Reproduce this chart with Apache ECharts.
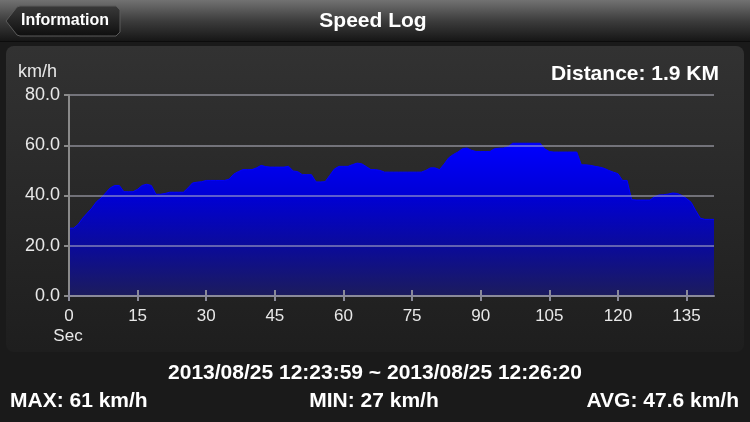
<!DOCTYPE html>
<html>
<head>
<meta charset="utf-8">
<script src="https://cdn.jsdelivr.net/npm/echarts@6/dist/echarts.min.js"></script>
<style>
html,body{margin:0;padding:0;background:#1a1a1a;}
#c{width:750px;height:422px;}
</style>
</head>
<body>
<div id="c"></div>
<script>
// ---- data ----
const seconds = [];
for (let i = 0; i <= 141; i++) seconds.push(i);
const speeds = [
  27, 27, 28.5, 31, 33, 35, 37.5, 39, 41, 43,
  44, 44, 41.5, 41.5, 41.5, 42.5, 44, 44.5, 44, 40.5,
  40.5, 40.8, 41.3, 41.3, 41.3, 41.3, 43, 45, 45.3, 45.5,
  46, 46, 46, 46, 46, 46.5, 48.5, 49.5, 50.3, 50.3,
  50.3, 51, 52, 51.5, 51.3, 51.3, 51.3, 51.3, 51.6, 49.8,
  49.5, 48.3, 48.3, 48.3, 45.4, 45.4, 45.5, 48, 50.5, 51.6,
  51.6, 51.6, 52.3, 52.9, 52.6, 51.5, 50.3, 50.3, 50, 49.3,
  49.3, 49.3, 49.3, 49.3, 49.3, 49.3, 49.3, 49.3, 50, 51,
  51, 50.3, 52.5, 55, 56.3, 57.3, 58.6, 58.9, 58, 57.5,
  57.5, 57.5, 57.5, 58.6, 58.8, 58.9, 59.5, 60.8, 60.8, 60.8,
  60.8, 60.8, 60.8, 60.8, 58.6, 57.5, 57.3, 57.3, 57.3, 57.3,
  57.3, 57.3, 52.2, 52.2, 52, 51.6, 51.3, 50.8, 50, 49.3,
  48.7, 46, 46, 38.4, 38.2, 38.2, 38.2, 38.2, 39.5, 40.2,
  40.3, 40.6, 41, 40.8, 40, 38.8, 37.3, 34, 31, 30.5,
  30.5, 30.5
];
const xTickLabels = [0, 15, 30, 45, 60, 75, 90, 105, 120, 135];
const yTickLabels = [0, 20, 40, 60, 80];
const titleText = 'Speed Log';
const backText = 'Information';
const distanceText = 'Distance: 1.9 KM';
const rangeText = '2013/08/25 12:23:59 ~ 2013/08/25 12:26:20';
const maxText = 'MAX: 61 km/h';
const minText = 'MIN: 27 km/h';
const avgText = 'AVG: 47.6 km/h';

const points = seconds.map((s, i) => [s, speeds[i]]);
const FONT = '"Liberation Sans", Arial, Helvetica, sans-serif';

const chart = echarts.init(document.getElementById('c'), null, {renderer: 'canvas'});
chart.setOption({
  backgroundColor: '#1a1a1a',
  animation: false,
  grid: {left: 69, right: 36, top: 95, bottom: 126},
  graphic: [
    {type: 'rect', z: -10, silent: true, shape: {x: 0, y: 0, width: 750, height: 42},
      style: {fill: new echarts.graphic.LinearGradient(0, 0, 0, 1, [
        {offset: 0, color: '#727272'}, {offset: 0.5, color: '#3c3c3c'}, {offset: 1, color: '#141414'}])}},
    {type: 'rect', z: -10, silent: true, shape: {x: 0, y: 41, width: 750, height: 1}, style: {fill: '#0c0c0c'}},
    {type: 'polygon', z: 5, silent: true,
      shape: {points: [[6, 21], [17, 7], [20, 6], [116, 6], [120, 10], [120, 32], [116, 36], [20, 36], [17, 35]]},
      style: {fill: new echarts.graphic.LinearGradient(0, 0, 0, 1, [
        {offset: 0, color: '#3a3a3a'}, {offset: 1, color: '#0e0e0e'}]), stroke: '#5a5a5a', lineWidth: 1}},
    {type: 'text', z: 6, silent: true, style: {text: backText, x: 65, y: 21, align: 'center', verticalAlign: 'middle',
      font: 'bold 16px ' + FONT, fill: '#ffffff'}},
    {type: 'text', z: 6, silent: true, style: {text: titleText, x: 373, y: 21, align: 'center', verticalAlign: 'middle',
      font: 'bold 21px ' + FONT, fill: '#ffffff'}},
    {type: 'rect', z: -5, silent: true, shape: {x: 6, y: 46, width: 738, height: 306, r: 8},
      style: {fill: new echarts.graphic.LinearGradient(0, 0, 0, 1, [
        {offset: 0, color: '#323232'}, {offset: 1, color: '#1e1e1e'}])}},
    {type: 'text', silent: true, style: {text: 'km/h', x: 18, y: 72, verticalAlign: 'middle',
      font: '18px ' + FONT, fill: '#e8e8e8'}},
    {type: 'text', silent: true, style: {text: distanceText, x: 719, y: 74, align: 'right', verticalAlign: 'middle',
      font: 'bold 21px ' + FONT, fill: '#ffffff'}},
    {type: 'text', silent: true, style: {text: 'Sec', x: 68, y: 336, align: 'center', verticalAlign: 'middle',
      font: '17px ' + FONT, fill: '#e8e8e8'}},
    {type: 'text', silent: true, style: {text: rangeText, x: 375, y: 373, align: 'center', verticalAlign: 'middle',
      font: 'bold 21px ' + FONT, fill: '#ffffff'}},
    {type: 'text', silent: true, style: {text: maxText, x: 10, y: 401, align: 'left', verticalAlign: 'middle',
      font: 'bold 21px ' + FONT, fill: '#ffffff'}},
    {type: 'text', silent: true, style: {text: minText, x: 374, y: 401, align: 'center', verticalAlign: 'middle',
      font: 'bold 21px ' + FONT, fill: '#ffffff'}},
    {type: 'text', silent: true, style: {text: avgText, x: 739, y: 401, align: 'right', verticalAlign: 'middle',
      font: 'bold 21px ' + FONT, fill: '#ffffff'}}
  ],
  xAxis: [{
    type: 'value', min: 0, max: 141, interval: 15, z: 3,
    axisLine: {show: true, lineStyle: {color: '#8a8a9a', width: 2}},
    axisTick: {show: true, inside: true, length: 6, customValues: xTickLabels, lineStyle: {color: '#8a8a9a', width: 2}},
    axisLabel: {customValues: xTickLabels, color: '#e8e8e8', fontSize: 17, fontFamily: FONT, margin: 12},
    splitLine: {show: false}
  }, {
    type: 'value', min: 0, max: 141, interval: 15, position: 'bottom', z: 3,
    axisLine: {show: false},
    axisTick: {show: true, inside: false, length: 5, customValues: xTickLabels, lineStyle: {color: '#8a8a9a', width: 2}},
    axisLabel: {show: false},
    splitLine: {show: false}
  }],
  yAxis: {
    type: 'value', min: 0, max: 80, interval: 20, z: 3,
    axisLine: {show: true, lineStyle: {color: '#8a8a8a', width: 2}},
    axisTick: {show: true, length: 5, lineStyle: {color: '#8a8a8a', width: 2}},
    axisLabel: {color: '#e8e8e8', fontSize: 18, fontFamily: FONT, margin: 9,
      customValues: yTickLabels, formatter: v => v.toFixed(1)},
    splitLine: {show: true, lineStyle: {color: 'rgba(185,185,200,0.5)', width: 2}}
  },
  series: [{
    type: 'line', data: points, showSymbol: false, smooth: false, z: 2,
    lineStyle: {color: '#0000ff', width: 1},
    areaStyle: {opacity: 1, color: new echarts.graphic.LinearGradient(0, 0, 0, 1, [
      {offset: 0, color: '#0000ff'}, {offset: 0.35, color: '#0000d4'}, {offset: 0.7, color: '#0c0c95'}, {offset: 1, color: '#1c1c5c'}])}
  }]
});
</script>
</body>
</html>
